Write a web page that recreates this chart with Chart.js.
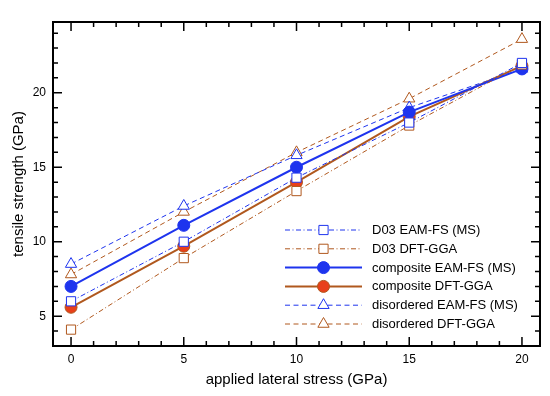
<!DOCTYPE html>
<html>
<head>
<meta charset="utf-8">
<script src="https://cdn.jsdelivr.net/npm/chart.js@4"></script>
<style>
  html, body { margin: 0; padding: 0; background: #fff; }
  #wrap { width: 550px; height: 396px; }
</style>
</head>
<body>
<div id="wrap"><canvas id="myChart" width="550" height="396"></canvas></div>
<script>
// values (GPa)
const stress = [0, 5, 10, 15, 20];
const d03Eam = [6.0, 10.0, 14.3, 18.0, 22.0];
const d03Dft = [4.1, 8.9, 13.4, 17.8, 21.9];
const compEam = [7.0, 11.1, 15.0, 18.7, 21.6];
const compDft = [5.6, 9.7, 14.0, 18.4, 21.8];
const disEam = [8.5, 12.4, 15.8, 19.0, 21.6];
const disDft = [7.8, 12.0, 16.0, 19.6, 23.6];
const names = [
  "D03 EAM-FS (MS)",
  "D03 DFT-GGA",
  "composite EAM-FS (MS)",
  "composite DFT-GGA",
  "disordered EAM-FS (MS)",
  "disordered DFT-GGA",
];
const xTicks = [0, 5, 10, 15, 20];
const yTicks = [5, 10, 15, 20];

const blue = "#1e34ee";
const brown = "#b0581e";
const red = "#e8401a";
const font = "'Liberation Sans', Arial, Helvetica, sans-serif";

function pts(vals) {
  return stress.map((s, i) => ({ x: s, y: vals[i] }));
}

function series(label, vals, color, style) {
  const base = {
    label: label,
    data: pts(vals),
    borderColor: color,
    pointBorderColor: color,
    pointBorderWidth: 1,
    pointHoverRadius: 6,
  };
  if (style === "d03") {
    return Object.assign(base, {
      borderWidth: 1,
      borderDash: [5, 2.5, 1, 2.5],
      pointStyle: "rect",
      pointRadius: 6.5,
      pointBackgroundColor: "#fff",
    });
  }
  if (style === "dis") {
    return Object.assign(base, {
      borderWidth: 1,
      borderDash: [5, 3.5],
      pointStyle: "triangle",
      pointRadius: 6.5,
      pointBackgroundColor: "#fff",
    });
  }
  return Object.assign(base, {
    borderWidth: 2,
    pointStyle: "circle",
    pointRadius: 6,
    pointBackgroundColor: color,
  });
}

// frame with inward ticks on all four sides
const frameTicks = {
  id: "frameTicks",
  afterDraw(chart) {
    const { ctx, chartArea: a } = chart;
    const x = chart.scales.x;
    const y = chart.scales.y;
    ctx.save();
    ctx.strokeStyle = "#000";
    ctx.lineWidth = 1.5;
    ctx.beginPath();
    for (let v = 0; v <= 20; v++) {
      const px = x.getPixelForValue(v);
      const len = v % 5 === 0 ? 9 : 5;
      ctx.moveTo(px, a.bottom);
      ctx.lineTo(px, a.bottom - len);
      ctx.moveTo(px, a.top);
      ctx.lineTo(px, a.top + len);
    }
    for (let v = 4; v <= 24; v++) {
      const py = y.getPixelForValue(v);
      const len = v % 5 === 0 ? 9 : 5;
      ctx.moveTo(a.left, py);
      ctx.lineTo(a.left + len, py);
      ctx.moveTo(a.right, py);
      ctx.lineTo(a.right - len, py);
    }
    ctx.stroke();
    ctx.lineWidth = 2;
    ctx.strokeRect(a.left, a.top, a.right - a.left, a.bottom - a.top);
    ctx.restore();
  },
};

// legend drawn with line + marker in the middle
const legendBox = {
  id: "legendBox",
  afterDraw(chart) {
    const { ctx, chartArea: a } = chart;
    const x0 = a.left + 232;
    const x1 = a.left + 309;
    const y0 = a.top + 208;
    const rowH = 18.8;
    chart.data.datasets.forEach((ds, i) => {
      const yy = y0 + i * rowH;
      ctx.save();
      ctx.strokeStyle = ds.borderColor;
      ctx.lineWidth = ds.borderWidth;
      ctx.setLineDash(ds.borderDash || []);
      ctx.beginPath();
      ctx.moveTo(x0, yy);
      ctx.lineTo(x1, yy);
      ctx.stroke();
      ctx.setLineDash([]);
      ctx.fillStyle = ds.pointBackgroundColor;
      ctx.strokeStyle = ds.pointBorderColor;
      ctx.lineWidth = ds.pointBorderWidth;
      Chart.helpers.drawPoint(ctx, {
        pointStyle: ds.pointStyle,
        radius: ds.pointRadius,
        borderWidth: ds.pointBorderWidth,
        rotation: 0,
      }, (x0 + x1) / 2, yy);
      ctx.fillStyle = "#000";
      ctx.font = "13px " + font;
      ctx.textBaseline = "middle";
      ctx.textAlign = "left";
      ctx.fillText(ds.label, x1 + 10, yy + 0.5);
      ctx.restore();
    });
  },
};

function renderChart() {
  const ctx = document.getElementById("myChart");

  const compDftSet = series(names[3], compDft, brown, "comp");
  compDftSet.pointBackgroundColor = red;
  compDftSet.pointBorderColor = brown;

  new Chart(ctx, {
    type: "line",
    data: {
      datasets: [
        series(names[0], d03Eam, blue, "d03"),
        series(names[1], d03Dft, brown, "d03"),
        series(names[2], compEam, blue, "comp"),
        compDftSet,
        series(names[4], disEam, blue, "dis"),
        series(names[5], disDft, brown, "dis"),
      ],
    },
    options: {
      responsive: false,
      animation: false,
      layout: { padding: { top: 22, right: 10, left: 0, bottom: 0 } },
      plugins: {
        legend: { display: false },
        tooltip: { enabled: false },
      },
      scales: {
        x: {
          type: "linear",
          min: -0.8,
          max: 20.8,
          afterFit: (s) => { s.height = 50; },
          afterBuildTicks: (s) => { s.ticks = xTicks.map((v) => ({ value: v })); },
          grid: { display: true, drawOnChartArea: false, drawTicks: false },
          border: { display: false },
          ticks: { color: "#000", padding: 6, font: { family: font, size: 12 } },
          title: {
            display: true,
            text: "applied lateral stress (GPa)",
            color: "#000",
            font: { family: font, size: 15 },
            padding: { top: 4, bottom: 7 },
          },
        },
        y: {
          type: "linear",
          min: 3,
          max: 24.75,
          afterFit: (s) => { s.width = 53; },
          afterBuildTicks: (s) => { s.ticks = yTicks.map((v) => ({ value: v })); },
          grid: { display: true, drawOnChartArea: false, drawTicks: false },
          border: { display: false },
          ticks: { color: "#000", padding: 7, font: { family: font, size: 12 } },
          title: {
            display: true,
            text: "tensile strength (GPa)",
            color: "#000",
            font: { family: font, size: 15 },
            padding: { top: 10, bottom: 4 },
          },
        },
      },
    },
    plugins: [frameTicks, legendBox],
  });
}
renderChart();
</script>
</body>
</html>
